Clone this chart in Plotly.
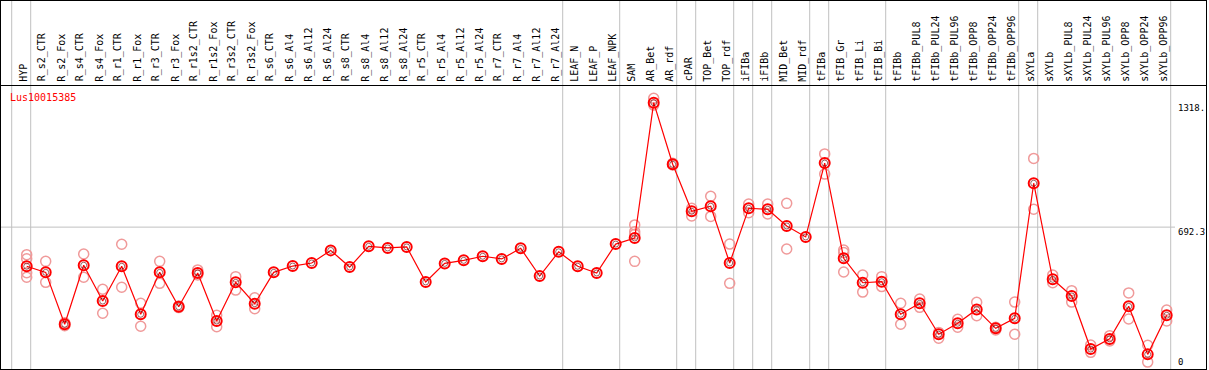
import plotly.graph_objects as go

gene = "Lus10015385"

categories = [
    "HYP", "R_s2_CTR", "R_s2_Fox", "R_s4_CTR", "R_s4_Fox", "R_r1_CTR", "R_r1_Fox",
    "R_r3_CTR", "R_r3_Fox", "R_r1s2_CTR", "R_r1s2_Fox", "R_r3s2_CTR", "R_r3s2_Fox",
    "R_s6_CTR", "R_s6_Al4", "R_s6_Al12", "R_s6_Al24", "R_s8_CTR", "R_s8_Al4",
    "R_s8_Al12", "R_s8_Al24", "R_r5_CTR", "R_r5_Al4", "R_r5_Al12", "R_r5_Al24",
    "R_r7_CTR", "R_r7_Al4", "R_r7_Al12", "R_r7_Al24", "LEAF_N", "LEAF_P", "LEAF_NPK",
    "SAM", "AR_Bet", "AR_rdf", "cPAR", "TOP_Bet", "TOP_rdf", "iFIBa", "iFIBb",
    "MID_Bet", "MID_rdf", "tFIBa", "tFIB_Gr", "tFIB_Li", "tFIB_Bi", "tFIBb",
    "tFIBb_PUL8", "tFIBb_PUL24", "tFIBb_PUL96", "tFIBb_OPP8", "tFIBb_OPP24",
    "tFIBb_OPP96", "sXYLa", "sXYLb", "sXYLb_PUL8", "sXYLb_PUL24", "sXYLb_PUL96",
    "sXYLb_OPP8", "sXYLb_OPP24", "sXYLb_OPP96",
]

means = [
    500, 470, 215, 505, 329, 500, 264, 470, 301, 467, 231, 421, 316,
    470, 501, 516, 578, 496, 598, 590, 595, 423, 514, 529, 549,
    536, 588, 452, 571, 500, 467, 609,
    639, 1304, 1001, 770, 795, 516, 785, 780,
    698, 644, 1007, 539, 419, 424, 264,
    318, 166, 220, 288, 195, 244,
    908, 436, 354, 93, 143, 303, 67, 259,
]

replicates = [
    [557, 537, 468, 446], [524, 421], [222, 208], [560, 446], [387, 269],
    [608, 397], [318, 205], [524, 416], [305, 297], [482, 457], [259, 203],
    [449, 383], [345, 291],
    [], [], [], [], [], [], [], [], [], [], [], [], [], [], [], [], [], [], [],
    [703, 670, 657, 524], [1325, 1292], [1006, 998], [785, 747], [844, 745],
    [609, 416], [806, 763], [806, 757], [809, 585], [],
    [1052, 953], [580, 567, 472], [457, 373], [449, 400], [318, 215],
    [339, 298], [175, 146], [239, 200], [323, 257], [200, 187], [324, 166],
    [1030, 780], [457, 419], [380, 324], [113, 77], [159, 133], [369, 241],
    [112, 29], [285, 231],
]

# indices of the last category in each group (separator drawn just after it)
group_ends = [-1, 0, 28, 31, 34, 35, 37, 38, 39, 41, 42, 45, 52, 53, 60]

y_tick_values = [1318, 692.3, 0]
y_tick_labels = ["1318.", "692.3", "0"]
y_tick_shift = [-8, -5, 6]

W, H = 1209, 370
FONT = "DejaVu Sans Mono"


def px_x(p):
    return p / W


def px_y(p):
    return 1 - p / H


fig = go.Figure()

rx, ry = [], []
for cat, vals in zip(categories, replicates):
    for v in vals:
        rx.append(cat)
        ry.append(v)

fig.add_trace(go.Scatter(
    x=rx, y=ry, mode="markers", hoverinfo="skip",
    marker=dict(symbol="circle-open", size=10, color="#f09a9a", line=dict(width=1.5)),
))
fig.add_trace(go.Scatter(
    x=categories, y=means, mode="lines+markers",
    line=dict(color="#ff0000", width=1.2),
    marker=dict(symbol="circle-open", size=10, color="#ff0000", line=dict(width=2)),
))
fig.add_trace(go.Scatter(
    x=categories, y=means, mode="markers", hoverinfo="skip",
    marker=dict(symbol="circle-open", size=6, color="rgba(90,0,0,0.6)", line=dict(width=1)),
))

shapes = []
for g in group_ends:
    shapes.append(dict(type="line", xref="x", yref="paper", x0=g + 0.21, x1=g + 0.21,
                       y0=0, y1=1, line=dict(color="#c0c0c0", width=1), layer="below"))
shapes.append(dict(type="line", xref="paper", yref="y", x0=0, x1=px_x(1175),
                   y0=y_tick_values[1], y1=y_tick_values[1],
                   line=dict(color="#c0c0c0", width=1), layer="below"))
for y in (0.5, 85.5, 369.5):
    shapes.append(dict(type="line", xref="paper", yref="paper", x0=0, x1=px_x(1206.5),
                       y0=px_y(y), y1=px_y(y), line=dict(color="black", width=1)))
for x in (0.5, 1206.5):
    shapes.append(dict(type="line", xref="paper", yref="paper", x0=px_x(x), x1=px_x(x),
                       y0=0, y1=1, line=dict(color="black", width=1)))

annotations = []
for i, cat in enumerate(categories):
    annotations.append(dict(
        x=i - 0.18, y=px_y(83.5), xref="x", yref="paper", text=cat, textangle=-90,
        showarrow=False, xanchor="center", yanchor="bottom",
        font=dict(family=FONT, size=10, color="black"),
    ))
for v, lab, sh in zip(y_tick_values, y_tick_labels, y_tick_shift):
    annotations.append(dict(
        x=px_x(1176), y=v, xref="paper", yref="y", text=lab, showarrow=False,
        xanchor="left", yanchor="middle", yshift=sh,
        font=dict(family=FONT, size=9, color="black"),
    ))
annotations.append(dict(
    x=px_x(8), y=px_y(97), xref="paper", yref="paper", text=gene, showarrow=False,
    xanchor="left", yanchor="middle", font=dict(family=FONT, size=10, color="#ff0000"),
))

fig.update_layout(
    width=W, height=H, autosize=False,
    margin=dict(l=0, r=0, t=0, b=0, pad=0),
    paper_bgcolor="white", plot_bgcolor="white",
    showlegend=False,
    shapes=shapes, annotations=annotations,
    xaxis=dict(type="category", categoryorder="array", categoryarray=categories,
               range=[-26.7 / 19, (W - 26.7) / 19],
               showgrid=False, zeroline=False, showticklabels=False, ticks="",
               fixedrange=True),
    yaxis=dict(range=[-2 / 0.2035, 368 / 0.2035], showgrid=False, zeroline=False,
               showticklabels=False, ticks="", fixedrange=True),
)

fig.write_html(
    "out.html",
    config={"displayModeBar": False},
    post_script="document.body.style.margin='0';document.body.style.overflow='hidden';",
)
